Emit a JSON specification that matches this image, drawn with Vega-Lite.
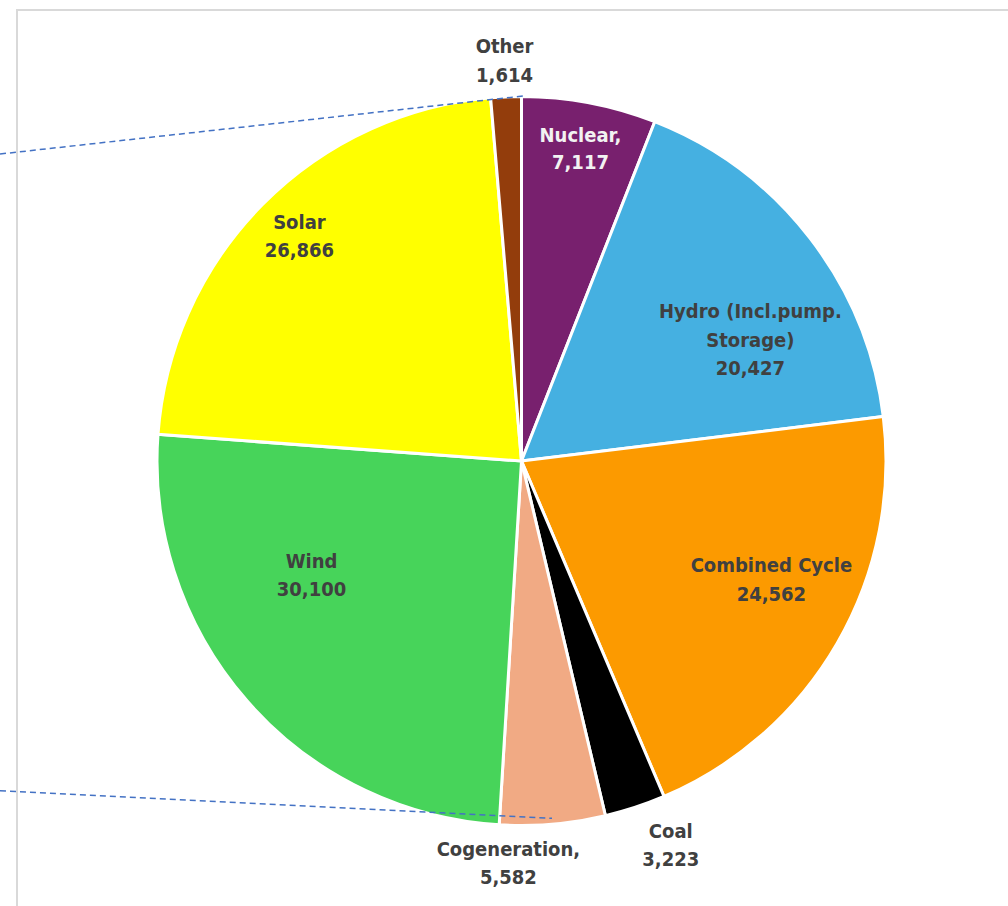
{
  "$schema": "https://vega.github.io/schema/vega-lite/v6.json",
  "width": 1009,
  "height": 902,
  "autosize": {"type": "none"},
  "padding": {"left": 17, "top": 10, "right": 0, "bottom": 0},
  "background": "white",
  "config": {"view": {"stroke": "#d9d9d9", "strokeWidth": 2}},
  "datasets": {
    "gen": [
      {"source": "Nuclear", "mw": 7117, "label": "Nuclear,\n7,117", "rank": 1},
      {"source": "Hydro (Incl.pump. Storage)", "mw": 20427, "label": "Hydro (Incl.pump.\nStorage)\n20,427", "rank": 2},
      {"source": "Combined Cycle", "mw": 24562, "label": "Combined Cycle\n24,562", "rank": 3},
      {"source": "Coal", "mw": 3223, "label": "Coal\n3,223", "rank": 4},
      {"source": "Cogeneration", "mw": 5582, "label": "Cogeneration,\n5,582", "rank": 5},
      {"source": "Wind", "mw": 30100, "label": "Wind\n30,100", "rank": 6},
      {"source": "Solar", "mw": 26866, "label": "Solar\n26,866", "rank": 7},
      {"source": "Other", "mw": 1614, "label": "Other\n1,614", "rank": 8}
    ],
    "connectors": [
      {"x": 0, "y": 154, "x2": 523, "y2": 96},
      {"x": 0, "y": 790.7, "x2": 552, "y2": 818.3}
    ]
  },
  "encoding": {
    "theta": {"field": "mw", "type": "quantitative", "stack": true},
    "order": {"field": "rank", "type": "quantitative", "sort": "ascending"},
    "detail": {"field": "source", "type": "nominal"}
  },
  "layer": [
    {
      "data": {"name": "gen"},
      "mark": {"type": "arc", "outerRadius": 364.5, "stroke": "white", "strokeWidth": 3},
      "encoding": {
        "color": {
          "field": "source",
          "type": "nominal",
          "scale": {
            "domain": ["Nuclear", "Hydro (Incl.pump. Storage)", "Combined Cycle", "Coal", "Cogeneration", "Wind", "Solar", "Other"],
            "range": ["#78206E", "#45B0E1", "#FC9A00", "#000000", "#F1AA84", "#47D45A", "#FFFF00", "#933D0C"]
          },
          "legend": null
        }
      }
    },
    {
      "data": {"name": "gen"},
      "mark": {"type": "text", "radius": 317, "thetaOffset": 0.0, "dy": -14, "font": "Liberation Sans Narrow, DejaVu Sans Condensed, sans-serif", "fontWeight": "bold", "fontSize": 20, "lineBreak": "\n", "lineHeight": 27, "align": "center", "baseline": "middle", "fill": "#F2F2F2"},
      "encoding": {"text": {"condition": {"test": "datum.source === 'Nuclear'", "field": "label"}, "value": ""}}
    },
    {
      "data": {"name": "gen"},
      "mark": {"type": "text", "radius": 258.5, "thetaOffset": 0.176, "dy": -28.5, "font": "Liberation Sans Narrow, DejaVu Sans Condensed, sans-serif", "fontWeight": "bold", "fontSize": 20, "lineBreak": "\n", "lineHeight": 28.5, "align": "center", "baseline": "middle", "fill": "#404040"},
      "encoding": {"text": {"condition": {"test": "datum.rank === 2", "field": "label"}, "value": ""}}
    },
    {
      "data": {"name": "gen"},
      "mark": {"type": "text", "radius": 277, "thetaOffset": -0.077, "dy": -14.25, "font": "Liberation Sans Narrow, DejaVu Sans Condensed, sans-serif", "fontWeight": "bold", "fontSize": 20, "lineBreak": "\n", "lineHeight": 28.5, "align": "center", "baseline": "middle", "fill": "#404040"},
      "encoding": {"text": {"condition": {"test": "datum.rank === 3", "field": "label"}, "value": ""}}
    },
    {
      "data": {"name": "gen"},
      "mark": {"type": "text", "radius": 412.8, "thetaOffset": -0.053, "dy": -14.25, "font": "Liberation Sans Narrow, DejaVu Sans Condensed, sans-serif", "fontWeight": "bold", "fontSize": 20, "lineBreak": "\n", "lineHeight": 28.5, "align": "center", "baseline": "middle", "fill": "#404040"},
      "encoding": {"text": {"condition": {"test": "datum.rank === 4", "field": "label"}, "value": ""}}
    },
    {
      "data": {"name": "gen"},
      "mark": {"type": "text", "radius": 403, "thetaOffset": 0.118, "dy": -14.25, "font": "Liberation Sans Narrow, DejaVu Sans Condensed, sans-serif", "fontWeight": "bold", "fontSize": 20, "lineBreak": "\n", "lineHeight": 28.5, "align": "center", "baseline": "middle", "fill": "#404040"},
      "encoding": {"text": {"condition": {"test": "datum.rank === 5", "field": "label"}, "value": ""}}
    },
    {
      "data": {"name": "gen"},
      "mark": {"type": "text", "radius": 239.4, "thetaOffset": 0.217, "dy": -14.25, "font": "Liberation Sans Narrow, DejaVu Sans Condensed, sans-serif", "fontWeight": "bold", "fontSize": 20, "lineBreak": "\n", "lineHeight": 28.5, "align": "center", "baseline": "middle", "fill": "#404040"},
      "encoding": {"text": {"condition": {"test": "datum.rank === 6", "field": "label"}, "value": ""}}
    },
    {
      "data": {"name": "gen"},
      "mark": {"type": "text", "radius": 315.4, "thetaOffset": 0.01, "dy": -14.25, "font": "Liberation Sans Narrow, DejaVu Sans Condensed, sans-serif", "fontWeight": "bold", "fontSize": 20, "lineBreak": "\n", "lineHeight": 28.5, "align": "center", "baseline": "middle", "fill": "#404040"},
      "encoding": {"text": {"condition": {"test": "datum.rank === 7", "field": "label"}, "value": ""}}
    },
    {
      "data": {"name": "gen"},
      "mark": {"type": "text", "radius": 400, "thetaOffset": 0.0, "dy": -14.25, "font": "Liberation Sans Narrow, DejaVu Sans Condensed, sans-serif", "fontWeight": "bold", "fontSize": 20, "lineBreak": "\n", "lineHeight": 28.5, "align": "center", "baseline": "middle", "fill": "#404040"},
      "encoding": {"text": {"condition": {"test": "datum.rank === 8", "field": "label"}, "value": ""}}
    },
    {
      "data": {"name": "connectors"},
      "mark": {"type": "rule", "color": "#4472C4", "strokeWidth": 1.5, "strokeDash": [6, 4], "clip": false},
      "encoding": {
        "theta": null,
        "order": null,
        "detail": null,
        "x": {"field": "x", "type": "quantitative", "scale": {"domain": [17, 1026], "nice": false, "zero": false}, "axis": null},
        "x2": {"field": "x2"},
        "y": {"field": "y", "type": "quantitative", "scale": {"domain": [10, 912], "nice": false, "zero": false, "reverse": true}, "axis": null},
        "y2": {"field": "y2"}
      }
    }
  ]
}
